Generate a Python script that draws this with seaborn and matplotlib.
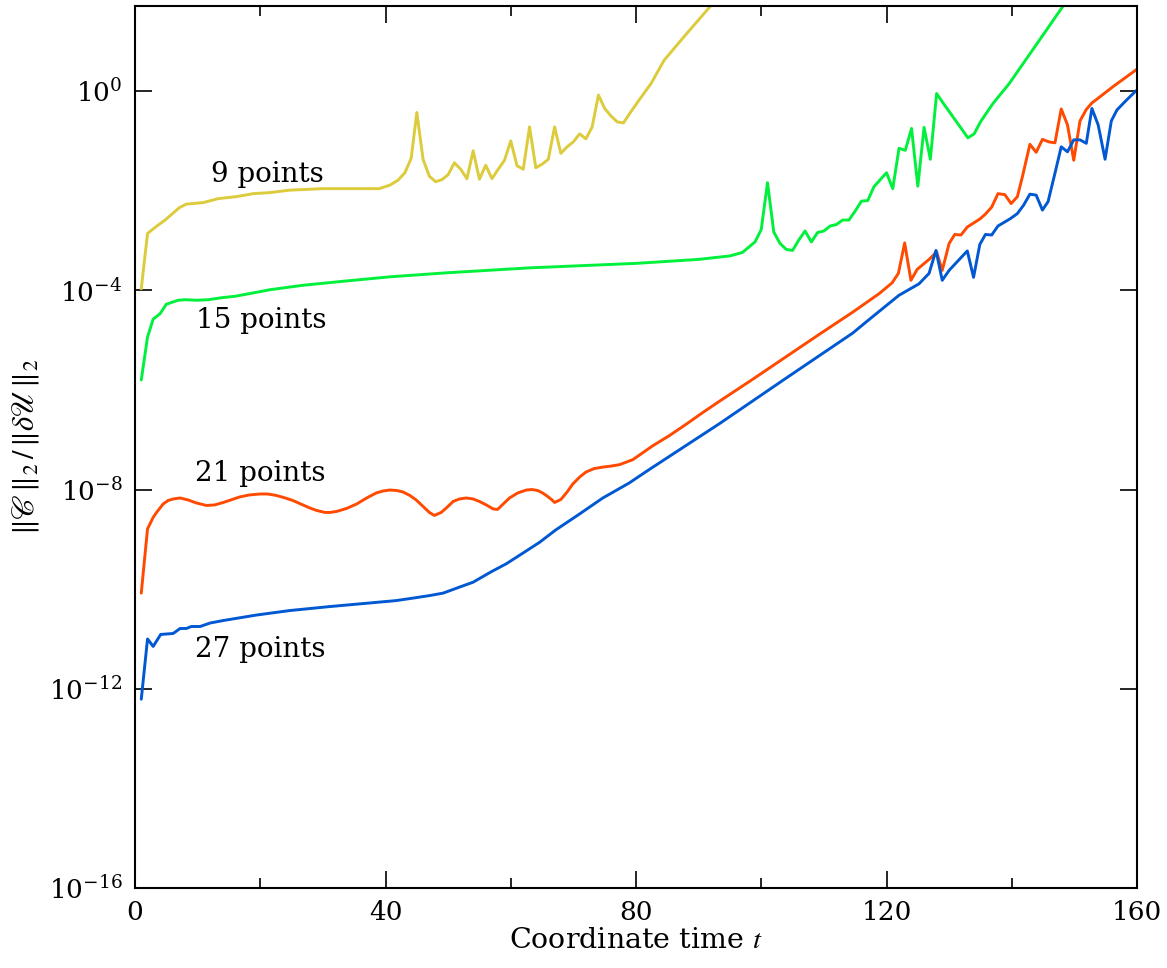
import numpy as np
import pandas as pd
import matplotlib
matplotlib.use("Agg")
import matplotlib.pyplot as plt
import seaborn as sns
from matplotlib.ticker import FixedLocator, LogFormatterMathtext, NullLocator

# ---- data (log10 of ||C||/||dU||) ----
t_9 = [1.0, 2.0, 3.4, 4.8, 7.1, 8.2, 10.9, 13.3, 16.2, 18.9, 21.5, 24.7, 30.0, 36.4, 39.0,
       40.7, 42.0, 43.1, 44.1, 45.0, 46.0, 47.0, 48.0, 49.0, 50.0, 51.0, 52.0, 53.0, 54.0,
       55.0, 56.0, 57.0, 58.0, 59.0, 60.0, 61.0, 62.0, 63.0, 64.0, 65.0, 66.0, 67.0, 68.0,
       69.0, 70.0, 71.0, 72.0, 73.0, 74.0, 75.0, 76.0, 77.0, 78.0, 79.0, 80.5, 82.4, 84.5,
       88.0, 92.0, 95.0]
log_9 = [-3.97, -2.86, -2.72, -2.59, -2.34, -2.27, -2.24, -2.16, -2.12, -2.06, -2.04, -1.99,
         -1.96, -1.96, -1.96, -1.89, -1.79, -1.64, -1.35, -0.43, -1.37, -1.71, -1.82, -1.78,
         -1.68, -1.44, -1.57, -1.76, -1.20, -1.77, -1.49, -1.76, -1.57, -1.39, -1.00, -1.50,
         -1.57, -0.72, -1.54, -1.47, -1.37, -0.72, -1.25, -1.12, -1.02, -0.86, -0.96, -0.72,
         -0.08, -0.35, -0.50, -0.62, -0.64, -0.45, -0.18, 0.15, 0.62, 1.14, 1.72, 2.10]

t_15 = [1.0, 2.0, 2.9, 4.0, 5.0, 6.9, 8.0, 9.8, 11.7, 13.8, 16.0, 19.0, 21.5, 26.8, 33.2,
        40.7, 49.7, 63.0, 80.0, 90.0, 95.0, 97.0, 99.0, 100.0, 101.0, 102.0, 103.0, 104.0,
        105.0, 106.0, 107.0, 108.0, 109.0, 110.0, 111.0, 112.0, 113.0, 114.0, 115.0, 116.0,
        117.0, 118.0, 120.0, 121.0, 122.0, 123.0, 124.0, 125.0, 126.0, 127.0, 128.0, 129.2,
        130.8, 133.0, 134.0, 135.0, 137.0, 139.6, 142.2, 148.0, 150.0]
log_15 = [-5.80, -4.94, -4.58, -4.47, -4.28, -4.20, -4.19, -4.20, -4.19, -4.15, -4.12, -4.05,
          -3.99, -3.90, -3.82, -3.73, -3.65, -3.55, -3.46, -3.38, -3.31, -3.24, -3.03, -2.78,
          -1.84, -2.83, -3.06, -3.18, -3.20, -2.99, -2.81, -3.03, -2.84, -2.81, -2.71, -2.68,
          -2.59, -2.59, -2.41, -2.21, -2.20, -1.92, -1.64, -1.96, -1.15, -1.19, -0.75, -1.91,
          -0.73, -1.37, -0.05, -0.27, -0.55, -0.94, -0.86, -0.62, -0.25, 0.15, 0.62, 1.67, 2.00]

t_21 = [1.0, 2.0, 2.9, 3.5, 4.5, 5.3, 6.1, 7.2, 8.5, 9.8, 11.4, 12.7, 14.1, 16.7, 18.2, 19.9,
        21.2, 22.6, 24.0, 25.2, 27.9, 29.0, 30.3, 31.2, 32.2, 33.8, 35.4, 37.0, 38.5, 39.6,
        40.7, 41.8, 42.8, 43.9, 44.9, 46.0, 47.0, 47.8, 48.9, 49.8, 50.8, 51.8, 52.9, 54.0,
        55.0, 56.1, 57.2, 57.9, 58.8, 59.8, 61.1, 62.5, 63.4, 64.3, 65.1, 65.9, 66.5, 67.0,
        68.0, 69.0, 69.9, 71.0, 72.0, 73.3, 74.7, 76.0, 77.4, 79.5, 82.7, 85.3, 88.0, 90.6,
        93.3, 98.6, 103.9, 109.2, 114.6, 118.8, 120.9, 121.9, 122.9, 123.9, 124.9, 126.8,
        128.0, 128.9, 130.0, 130.9, 131.9, 132.9, 133.9, 134.9, 135.8, 136.8, 137.8, 138.9,
        139.9, 140.9, 141.7, 142.9, 143.9, 144.9, 145.9, 146.9, 147.9, 148.9, 149.9, 150.9,
        151.9, 152.8, 156.3, 159.8, 160.0]
log_21 = [-10.08, -8.79, -8.56, -8.45, -8.29, -8.22, -8.19, -8.17, -8.21, -8.27, -8.32, -8.31,
          -8.26, -8.15, -8.11, -8.09, -8.09, -8.12, -8.17, -8.22, -8.37, -8.42, -8.46, -8.46,
          -8.44, -8.38, -8.29, -8.17, -8.07, -8.03, -8.01, -8.02, -8.05, -8.12, -8.21, -8.34,
          -8.46, -8.52, -8.46, -8.36, -8.24, -8.19, -8.17, -8.19, -8.24, -8.31, -8.39, -8.40,
          -8.29, -8.17, -8.07, -8.01, -8.00, -8.02, -8.07, -8.14, -8.20, -8.26, -8.20, -8.05,
          -7.89, -7.75, -7.65, -7.58, -7.55, -7.53, -7.50, -7.40, -7.12, -6.92, -6.69, -6.46,
          -6.23, -5.79, -5.34, -4.89, -4.44, -4.07, -3.85, -3.66, -3.05, -3.80, -3.58, -3.38,
          -3.23, -3.60, -3.06, -2.88, -2.89, -2.73, -2.65, -2.57, -2.47, -2.33, -2.06, -2.08,
          -2.26, -2.12, -1.72, -1.07, -1.23, -0.97, -1.02, -1.04, -0.36, -0.68, -1.39, -0.60,
          -0.37, -0.24, 0.10, 0.42, 0.44]

t_27 = [1.0, 2.0, 2.9, 4.1, 6.1, 7.2, 8.2, 9.0, 10.4, 12.0, 14.1, 19.4, 24.7, 31.1, 36.4,
        41.7, 44.4, 47.0, 49.2, 51.8, 54.0, 56.9, 59.3, 61.9, 64.6, 67.2, 71.0, 74.7, 78.9,
        82.1, 93.3, 103.9, 114.6, 117.2, 122.0, 125.2, 126.8, 127.9, 128.9, 130.0, 132.9,
        133.9, 134.9, 135.8, 136.8, 137.8, 139.8, 140.9, 141.9, 142.9, 143.9, 144.9, 145.8,
        146.9, 147.9, 148.9, 149.9, 150.9, 151.9, 152.8, 153.8, 154.9, 155.9, 156.8, 158.1,
        159.8, 160.0]
log_27 = [-12.21, -11.00, -11.15, -10.91, -10.89, -10.79, -10.79, -10.75, -10.75, -10.68,
          -10.63, -10.52, -10.43, -10.35, -10.29, -10.23, -10.18, -10.13, -10.08, -9.96,
          -9.86, -9.65, -9.49, -9.28, -9.06, -8.81, -8.49, -8.17, -7.87, -7.60, -6.68, -5.77,
          -4.86, -4.59, -4.10, -3.87, -3.66, -3.20, -3.80, -3.60, -3.21, -3.74, -3.08, -2.88,
          -2.89, -2.71, -2.56, -2.46, -2.29, -2.07, -2.09, -2.39, -2.22, -1.65, -1.12, -1.22,
          -0.98, -0.98, -1.05, -0.35, -0.68, -1.37, -0.60, -0.38, -0.21, 0.00, 0.02]

series_names = ["9 points", "15 points", "21 points", "27 points"]
series_colors = ["#DCCB3A", "#00F03C", "#FF4A00", "#0058D2"]
x_ticks = [0, 40, 80, 120, 160]
x_minor = [20, 60, 100, 140]
y_ticks = [1e-16, 1e-12, 1e-8, 1e-4, 1e0]

# label anchor (t, log10 value at baseline)
label_pos = [(12.2, -1.83), (9.8, -4.75), (9.6, -7.82), (9.6, -11.37)]

frames = []
for name, tt, lv in zip(series_names, [t_9, t_15, t_21, t_27], [log_9, log_15, log_21, log_27]):
    frames.append(pd.DataFrame({"t": tt, "err": 10.0 ** np.array(lv), "res": name}))
df = pd.concat(frames, ignore_index=True)

sns.set_theme(style="ticks")
plt.rcParams["font.family"] = ["DejaVu Serif"]
plt.rcParams["mathtext.fontset"] = "stix"
plt.rcParams["text.color"] = "black"
plt.rcParams["axes.labelcolor"] = "black"
plt.rcParams["xtick.color"] = "black"
plt.rcParams["ytick.color"] = "black"

fig = plt.figure(figsize=(11.67, 9.68), dpi=100)
ax = fig.add_axes([135 / 1167, 1 - 888 / 968, (1137 - 135) / 1167, (888 - 6) / 968])

sns.lineplot(data=df, x="t", y="err", hue="res", palette=dict(zip(series_names, series_colors)),
             estimator=None, sort=False, linewidth=2.1, legend=False, ax=ax)

ax.set_yscale("log")
ax.set_xlim(0, 160)
ax.set_ylim(1e-16, 10 ** 1.707)

ax.xaxis.set_major_locator(FixedLocator(x_ticks))
ax.xaxis.set_minor_locator(FixedLocator(x_minor))
ax.yaxis.set_major_locator(FixedLocator(y_ticks))
ax.yaxis.set_major_formatter(LogFormatterMathtext())
ax.yaxis.set_minor_locator(NullLocator())

ax.tick_params(which="both", direction="in", top=True, right=True, width=1.2, colors="black",
               labelsize=19)
ax.tick_params(which="major", length=12)
ax.tick_params(which="minor", length=7)
ax.tick_params(axis="x", pad=9)
ax.tick_params(axis="y", pad=9)
for sp in ax.spines.values():
    sp.set_linewidth(1.5)
    sp.set_color("black")

ax.set_xlabel("Coordinate time $t$", fontsize=20.5, labelpad=1, color="black")
ax.set_ylabel(r"$\|\mathscr{C}\,\|_2\,/\,\|\delta\mathscr{U}\,\|_2$", fontsize=22, labelpad=6,
              color="black")

for name, (tx, ly) in zip(series_names, label_pos):
    ax.text(tx, 10 ** ly, name, fontsize=20, ha="left", va="baseline", color="black")

fig.savefig("out.png", dpi=100)
